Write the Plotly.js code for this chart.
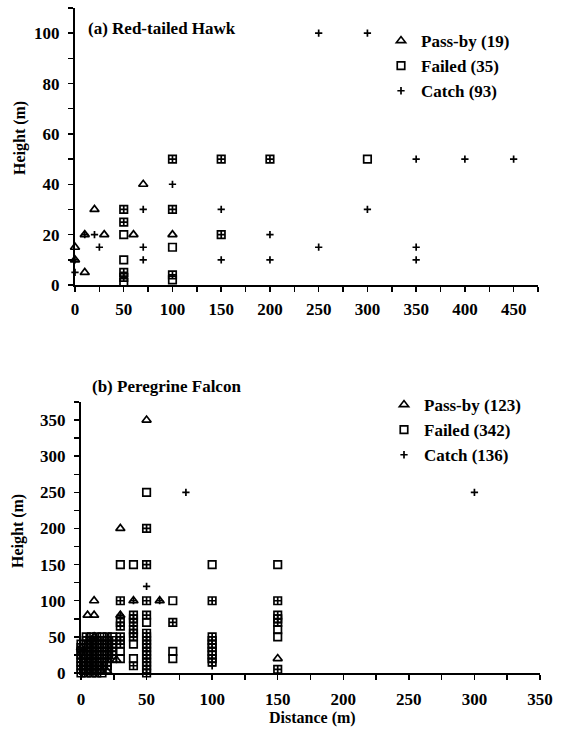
<!DOCTYPE html>
<html>
<head>
<meta charset="utf-8">
<script src="https://cdn.plot.ly/plotly-3.0.1.min.js"></script>
<style>html,body{margin:0;padding:0;background:#fff;}#chart{width:562px;height:739px;}</style>
</head>
<body>
<div id="chart"></div>
<script>
// (a) Red-tailed Hawk: [distance, height]
const passA = [[0,15],[0,10],[10,5],[10,20],[20,30],[30,20],[60,20],[70,40],[100,20]];
const failedA = [[50,30],[50,25],[50,20],[50,10],[50,5],[50,3],[50,1],[100,50],[100,30],[100,15],[100,4],[100,2],[150,50],[150,20],[200,50],[300,50]];
const catchA = [[0,10],[0,5],[10,20],[20,20],[25,15],[50,30],[50,25],[50,5],[50,3],[70,30],[70,15],[70,10],[100,50],[100,40],[100,30],[100,4],[150,50],[150,30],[150,20],[150,10],[200,50],[200,20],[200,10],[250,100],[250,15],[300,100],[300,30],[350,50],[350,15],[350,10],[400,50],[450,50]];

// (b) Peregrine Falcon: [distance, height]
const passB = [[0,35],[0,27],[10,50],[20,2],[27,18],[5,80],[10,80],[10,100],[30,80],[30,200],[40,100],[50,350],[60,100],[150,20]];
const failedB = [
 [0,0],[0,5],[0,10],[0,15],[0,20],[0,25],[0,30],[0,35],[0,40],
 [4,0],[4,5],[4,10],[4,15],[4,20],[4,25],[4,30],[4,35],[4,40],[4,45],[4,50],
 [8,0],[8,5],[8,10],[8,15],[8,20],[8,25],[8,30],[8,35],[8,40],[8,45],[8,50],
 [12,0],[12,5],[12,10],[12,15],[12,20],[12,25],[12,30],[12,35],[12,40],[12,45],[12,50],
 [16,0],[16,5],[16,10],[16,15],[16,20],[16,25],[16,30],[16,35],[16,40],[16,45],[16,50],
 [20,5],[20,10],[20,15],[20,20],[20,25],[20,30],[20,35],[20,40],[20,45],[20,50],
 [24,20],[24,25],[24,30],[24,35],[24,40],[24,45],[24,50],
 [30,150],[30,100],[30,70],[30,65],[30,50],[30,45],[30,40],[30,30],[30,20],
 [40,150],[40,80],[40,75],[40,70],[40,60],[40,55],[40,50],[40,40],[40,20],[40,10],
 [50,0],[50,5],[50,10],[50,15],[50,20],[50,25],[50,30],[50,35],[50,40],[50,45],[50,50],[50,55],[50,70],[50,80],[50,100],[50,150],[50,200],[50,250],
 [70,100],[70,70],[70,30],[70,20],
 [100,150],[100,100],[100,50],[100,45],[100,40],[100,35],[100,30],[100,25],[100,20],[100,15],
 [150,150],[150,100],[150,80],[150,75],[150,70],[150,60],[150,50],[150,5]
];
const catchB = [
 [0,0],[0,5],[0,10],[0,15],[0,20],[0,25],
 [4,0],[4,5],[4,10],[4,15],[4,20],[4,30],[4,40],[4,45],[4,50],
 [8,0],[8,5],[8,10],[8,15],[8,25],[8,35],[8,40],[8,45],
 [12,0],[12,5],[12,10],[12,20],[12,30],[12,40],[12,50],
 [16,5],[16,10],[16,15],[16,25],[16,35],[16,45],
 [20,10],[20,20],[20,30],[20,40],[20,50],
 [24,25],[24,35],[24,45],
 [30,100],[30,80],[30,70],[30,65],[30,50],[30,45],[30,40],
 [40,100],[40,80],[40,75],[40,70],[40,65],[40,60],[40,55],[40,50],[40,10],
 [50,0],[50,5],[50,10],[50,15],[50,20],[50,25],[50,30],[50,35],[50,40],[50,45],[50,50],[50,55],[50,80],[50,100],[50,120],[50,150],[50,200],
 [60,100],[70,70],[80,250],
 [100,100],[100,50],[100,45],[100,40],[100,35],[100,25],[100,20],[100,15],[100,10],
 [150,100],[150,80],[150,75],[150,70],[150,5],
 [300,250]
];

const namesA = ['Pass-by (19)', 'Failed (35)', 'Catch (93)'];
const namesB = ['Pass-by (123)', 'Failed (342)', 'Catch (136)'];

const FONT = 'Liberation Serif, Times New Roman, serif';
const xs = p => p.map(d => d[0]);
const ys = p => p.map(d => d[1]);

const mk = {
  pass: {symbol: 'triangle-up-open', size: 8, color: 'black', line: {width: 1.7, color: 'black'}},
  fail: {symbol: 'square-open', size: 7.5, color: 'black', line: {width: 1.7, color: 'black'}},
  cat:  {symbol: 'cross-thin', size: 5.2, color: 'black', line: {width: 1.7, color: 'black'}}
};

function tr(pts, name, marker, xa, ya, leg) {
  return {type: 'scatter', mode: 'markers', x: xs(pts), y: ys(pts), name: name,
    marker: marker, xaxis: xa, yaxis: ya, legend: leg, cliponaxis: false, hoverinfo: 'x+y'};
}

const data = [
  tr(passA, namesA[0], mk.pass, 'x', 'y', 'legend'),
  tr(failedA, namesA[1], mk.fail, 'x', 'y', 'legend'),
  tr(catchA, namesA[2], mk.cat, 'x', 'y', 'legend'),
  tr(passB, namesB[0], mk.pass, 'x2', 'y2', 'legend2'),
  tr(failedB, namesB[1], mk.fail, 'x2', 'y2', 'legend2'),
  tr(catchB, namesB[2], mk.cat, 'x2', 'y2', 'legend2')
];

const tickfont = {family: FONT, size: 17, color: 'black', weight: 'bold'};
function axis(extra) {
  return Object.assign({
    showline: true, linecolor: 'black', linewidth: 2, showgrid: false, zeroline: false,
    ticks: 'outside', ticklen: 5, tickwidth: 1.5, tickcolor: 'black', tickfont: tickfont,
    ticklabelstandoff: 3, fixedrange: true
  }, extra);
}
const minorTick = d => ({dtick: d, ticks: 'outside', ticklen: 5, tickwidth: 1.5, tickcolor: 'black', showgrid: false});

const W = 562, H = 739;
const legendFont = {family: FONT, size: 17, color: 'black', weight: 'bold'};
const annFont = (s) => ({family: FONT, size: s, color: 'black', weight: 'bold'});

const layout = {
  width: W, height: H,
  margin: {l: 0, r: 0, t: 0, b: 0},
  paper_bgcolor: 'white', plot_bgcolor: 'white',
  showlegend: true,
  xaxis: axis({domain: [75/W, 538/W], range: [0, 475], tick0: 0, dtick: 50, anchor: 'y', minor: minorTick(25)}),
  yaxis: axis({domain: [1-285/H, 1-8/H], range: [0, 110], tick0: 0, dtick: 20, anchor: 'x', minor: minorTick(10), ticklabelstandoff: 5}),
  xaxis2: axis({domain: [81/W, 540/W], range: [0, 350], tick0: 0, dtick: 50, anchor: 'y2', minor: minorTick(25), ticklabelstandoff: 5}),
  yaxis2: axis({domain: [1-673/H, 1-402/H], range: [0, 375], tick0: 0, dtick: 50, anchor: 'x2', minor: minorTick(25), ticklabelstandoff: 5}),
  legend: {x: 381/W, y: 1-23/H, xanchor: 'left', yanchor: 'top', font: legendFont, bgcolor: 'rgba(0,0,0,0)', tracegroupgap: 0, itemwidth: 30},
  legend2: {x: 384/W, y: 1-387/H, xanchor: 'left', yanchor: 'top', font: legendFont, bgcolor: 'rgba(0,0,0,0)', tracegroupgap: 0, itemwidth: 30},
  annotations: [
    {text: '(a) Red-tailed Hawk', xref: 'paper', yref: 'paper', x: 86/W, y: 1-29/H, xanchor: 'left', yanchor: 'middle', showarrow: false, font: annFont(17)},
    {text: '(b) Peregrine Falcon', xref: 'paper', yref: 'paper', x: 90/W, y: 1-386/H, xanchor: 'left', yanchor: 'middle', showarrow: false, font: annFont(17)},
    {text: 'Height (m)', xref: 'paper', yref: 'paper', x: 20/W, y: 1-138/H, xanchor: 'center', yanchor: 'middle', textangle: -90, showarrow: false, font: annFont(16)},
    {text: 'Height (m)', xref: 'paper', yref: 'paper', x: 18/W, y: 1-531/H, xanchor: 'center', yanchor: 'middle', textangle: -90, showarrow: false, font: annFont(16)},
    {text: 'Distance (m)', xref: 'paper', yref: 'paper', x: 312/W, y: 1-718/H, xanchor: 'center', yanchor: 'middle', showarrow: false, font: annFont(16)}
  ]
};

Plotly.newPlot('chart', data, layout, {displayModeBar: false, staticPlot: true});
</script>
</body>
</html>
